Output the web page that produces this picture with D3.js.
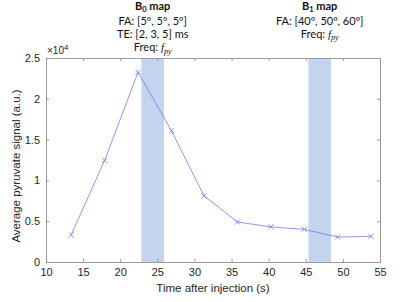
<!DOCTYPE html>
<html>
<head>
<meta charset="utf-8">
<script src="https://cdn.jsdelivr.net/npm/d3@7"></script>
<style>
  body { margin: 0; background: #fff; }
  svg { display: block; }
</style>
</head>
<body>
<script>
// data
let times = [13.4, 17.9, 22.4, 26.9, 31.3, 35.8, 40.3, 44.8, 49.3, 53.8];
let signal = [3350, 12450, 23250, 16100, 8100, 4900, 4300, 4000, 3060, 3140];
let bands = [[22.85, 25.9], [45.35, 48.4]];
let xTicks = [10, 15, 20, 25, 30, 35, 40, 45, 50, 55];
let yTicks = [0, 5000, 10000, 15000, 20000, 25000];

let notes = [
  ['FA: [5º, 5º, 5º]', 'TE: [2, 3, 5] ms'],
  ['FA: [40º, 50º, 60º]']
];
let noteTitles = ['0', '1'];

let dim = { width: 400, height: 302 };
let m = { left: 46, right: 20, top: 58, bottom: 40 };
let svg = d3.select('body').append('svg').attr('width', dim.width).attr('height', dim.height);

let x = d3.scaleLinear().domain([10, 55]).range([m.left, dim.width - m.right]);
let y = d3.scaleLinear().domain([0, 25000]).range([dim.height - m.bottom, m.top]);

let axisColor = '#262626';
let boxColor = '#9a9a9a';

// shaded acquisition windows
svg.selectAll('rect.band')
  .data(bands)
  .enter()
  .append('rect')
  .attr('class', 'band')
  .attr('x', (d) => x(d[0]))
  .attr('width', (d) => x(d[1]) - x(d[0]))
  .attr('y', y(25000))
  .attr('height', y(0) - y(25000))
  .attr('fill', '#c5d4ee');

// axes (ticks inside, mirrored on top and right)
let fmtY = (d) => d3.format('~g')(d / 1e4);
let gx = svg.append('g').attr('transform', `translate(0,${y(0)})`)
  .call(d3.axisBottom(x).tickValues(xTicks).tickSize(-3).tickPadding(6));
let gxt = svg.append('g').attr('transform', `translate(0,${y(25000)})`)
  .call(d3.axisTop(x).tickValues(xTicks).tickSize(-3).tickFormat(''));
let gy = svg.append('g').attr('transform', `translate(${x(10)},0)`)
  .call(d3.axisLeft(y).tickValues(yTicks).tickSize(-3).tickPadding(6).tickFormat(fmtY));
let gyr = svg.append('g').attr('transform', `translate(${x(55)},0)`)
  .call(d3.axisRight(y).tickValues(yTicks).tickSize(-3).tickFormat(''));

[gx, gxt, gy, gyr].forEach((g) => {
  g.select('.domain').attr('stroke', boxColor);
  g.selectAll('.tick line').attr('stroke', boxColor);
  g.selectAll('.tick text')
    .attr('fill', axisColor)
    .style('font-family', 'Liberation Sans, Arial, sans-serif')
    .style('font-size', '11px');
});

// exponent label
let ex = svg.append('text')
  .attr('x', x(10) + 1)
  .attr('y', y(25000) - 4)
  .attr('fill', axisColor)
  .style('font-family', 'Liberation Sans, Arial, sans-serif')
  .style('font-size', '10px');
ex.append('tspan').text('×10');
ex.append('tspan').attr('dy', -4).style('font-size', '8px').text('4');

// line + x markers
let line = d3.line().x((d, i) => x(times[i])).y((d) => y(d));
svg.append('path')
  .datum(signal)
  .attr('d', line)
  .attr('fill', 'none')
  .attr('stroke', '#7070ff')
  .attr('stroke-width', 0.75);

let s = 2.6;
svg.selectAll('path.mark')
  .data(signal)
  .enter()
  .append('path')
  .attr('class', 'mark')
  .attr('d', (d, i) => {
    let cx = x(times[i]), cy = y(d);
    return `M${cx - s},${cy - s}L${cx + s},${cy + s}M${cx - s},${cy + s}L${cx + s},${cy - s}`;
  })
  .attr('stroke', '#7070ff')
  .attr('stroke-width', 0.75);

// axis titles
svg.append('text')
  .attr('x', (x(10) + x(55)) / 2)
  .attr('y', 292)
  .attr('text-anchor', 'middle')
  .attr('fill', axisColor)
  .style('font-family', 'Liberation Sans, Arial, sans-serif')
  .style('font-size', '11.5px')
  .text('Time after injection (s)');

svg.append('text')
  .attr('transform', `translate(20,${(y(0) + y(25000)) / 2 + 6}) rotate(-90)`)
  .attr('text-anchor', 'middle')
  .attr('fill', axisColor)
  .style('font-family', 'Liberation Sans, Arial, sans-serif')
  .style('font-size', '11.5px')
  .text('Average pyruvate signal (a.u.)');

// annotations over the bands
bands.forEach((b, k) => {
  let cx = x((b[0] + b[1]) / 2);
  let g = svg.append('g')
    .attr('fill', '#111')
    .style('font-family', 'Lato, Noto Sans, sans-serif')
    .style('font-size', '11px')
    .attr('text-anchor', 'middle');

  let t = g.append('text').attr('x', cx).attr('y', 10).style('font-weight', 'bold');
  t.append('tspan').text('B');
  t.append('tspan').attr('dy', 2).style('font-size', '7.5px').text(noteTitles[k]);
  t.append('tspan').attr('dy', -2).text(' map');

  let rows = notes[k];
  rows.forEach((r, j) => {
    g.append('text').attr('x', cx).attr('y', 24.5 + j * 13.3).text(r);
  });

  let f = g.append('text').attr('x', cx).attr('y', 24.5 + rows.length * 13.3);
  f.append('tspan').text('Freq: ');
  f.append('tspan').style('font-style', 'italic').style('font-family', 'Liberation Serif, serif').text('f');
  f.append('tspan').attr('dy', 2.5).style('font-style', 'italic').style('font-family', 'Liberation Serif, serif').style('font-size', '8px').text('py');
});
</script>
</body>
</html>
